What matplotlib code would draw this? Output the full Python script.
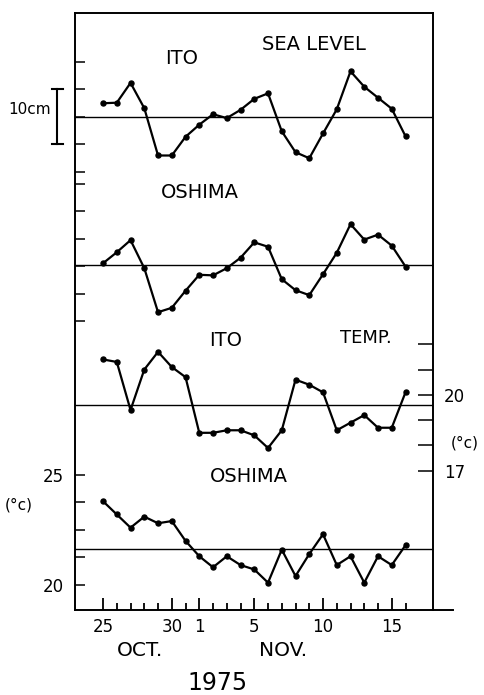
import numpy as np
import matplotlib.pyplot as plt
import matplotlib.transforms as mtransforms

# days from 25 Oct to 16 Nov 1975
days = [25, 26, 27, 28, 29, 30, 31, 1, 2, 3, 4, 5, 6, 7, 8, 9, 10, 11, 12, 13, 14, 15, 16]
major_idx = [0, 5, 7, 11, 16, 21]
major_labels = ["25", "30", "1", "5", "10", "15"]

# sea level anomaly (cm)
ito_sea = [2.5, 2.6, 6.2, 1.6, -7.0, -7.0, -3.6, -1.4, 0.5, -0.2, 1.3, 3.3, 4.3,
           -2.6, -6.4, -7.5, -3.0, 1.4, 8.3, 5.5, 3.5, 1.5, -3.5]
oshima_sea = [0.5, 2.5, 4.7, -0.4, -8.4, -7.6, -4.5, -1.6, -1.7, -0.4, 1.5, 4.3, 3.5,
              -2.4, -4.4, -5.3, -1.5, 2.4, 7.6, 4.8, 5.7, 3.7, -0.1]
# water temperature (deg C)
ito_temp = [21.4, 21.3, 19.4, 21.0, 21.7, 21.1, 20.7, 18.5, 18.5, 18.6, 18.6, 18.4, 17.9,
            18.6, 20.6, 20.4, 20.1, 18.6, 18.9, 19.2, 18.7, 18.7, 20.1]
oshima_temp = [23.8, 23.2, 22.6, 23.1, 22.8, 22.9, 22.0, 21.3, 20.8, 21.3, 20.9, 20.7, 20.1,
               21.6, 20.4, 21.4, 22.3, 20.9, 21.3, 20.1, 21.3, 20.9, 21.8]

W, H = 485, 695
L, R, T, B = 75, 433, 13, 610


def fx(px):
    return px / W


def fy(py):
    return 1 - py / H


rect = [fx(L), fy(B), (R - L) / W, (B - T) / H]
fig = plt.figure(figsize=(4.85, 6.95), dpi=100)

frame = fig.add_axes(rect)
x = np.arange(len(days))
frame.set_xlim(-2.04, 24.0)
frame.set_yticks([])
frame.set_xticks(major_idx, major_labels)
frame.set_xticks([i for i in x if i not in major_idx], minor=True)
frame.tick_params(axis="x", which="major", direction="in", length=8.5, width=1.3,
                  pad=6, labelsize=12)
frame.tick_params(axis="x", which="minor", direction="in", length=5, width=1.3)
for s in frame.spines.values():
    s.set_linewidth(1.4)
frame.plot([1, 1.055], [0, 0], transform=frame.transAxes, color="k", lw=1.4, clip_on=False)


def layer(y_ref, px_ref, scale):
    ax = fig.add_axes(rect, sharex=frame)
    ax.patch.set_visible(False)
    for s in ax.spines.values():
        s.set_visible(False)
    ax.set_ylim(y_ref - (B - px_ref) / scale, y_ref + (px_ref - T) / scale)
    ax.tick_params(axis="x", which="both", bottom=False, labelbottom=False)
    return ax


def draw(ax, vals):
    ax.plot(x, vals, "-o", color="k", lw=1.6, ms=3.6)
    ax.axhline(np.mean(vals), color="k", lw=1.0)


ax1 = layer(0, 117, 5.5)
draw(ax1, ito_sea)
ax1.set_yticks([-10, -5, 0, 5, 10], [])
ax1.tick_params(axis="y", direction="in", length=7, width=1.1)

ax2 = layer(0, 266, 5.5)
draw(ax2, oshima_sea)
ax2.set_yticks([-10, -5, 0, 5, 10, 15], [])
ax2.tick_params(axis="y", direction="in", length=7, width=1.1)

ax3 = layer(19.52, 407, 25.3)
draw(ax3, ito_temp)
ax3.yaxis.tick_right()
ax3.set_yticks([17, 18, 19, 20, 21, 22], ["17", "", "", "20", "", ""])
ax3.tick_params(axis="y", direction="in", length=11, width=1.1, pad=8, labelsize=12)

ax4 = layer(21.63, 549, 22)
draw(ax4, oshima_temp)
ax4.set_yticks([20, 21.25, 22.5, 23.75, 25], ["20", "", "", "", "25"])
ax4.tick_params(axis="y", direction="in", length=7, width=1.1, pad=8, labelsize=12)

# 10 cm scale bar
tr = mtransforms.blended_transform_factory(fig.transFigure, ax1.transData)
ax1.plot([fx(57), fx(57)], [-5, 5], transform=tr, color="k", lw=1.5, clip_on=False)
for v in (-5, 5):
    ax1.plot([fx(52), fx(63)], [v, v], transform=tr, color="k", lw=1.5, clip_on=False)

texts = [
    ("ITO", 182, 58, 14), ("SEA LEVEL", 314, 45, 14), ("10cm", 30, 110, 11),
    ("OSHIMA", 200, 192, 14), ("ITO", 226, 340, 14), ("TEMP.", 366, 338, 13),
    ("(°c)", 465, 443, 11), ("OSHIMA", 249, 477, 14), ("(°c)", 19, 505, 11),
    ("OCT.", 140, 650, 14.5), ("NOV.", 283, 650, 14.5), ("1975", 218, 683, 17),
]
for s, px, py, size in texts:
    fig.text(fx(px), fy(py), s, ha="center", va="center", fontsize=size)

plt.savefig("out.png", dpi=100)
